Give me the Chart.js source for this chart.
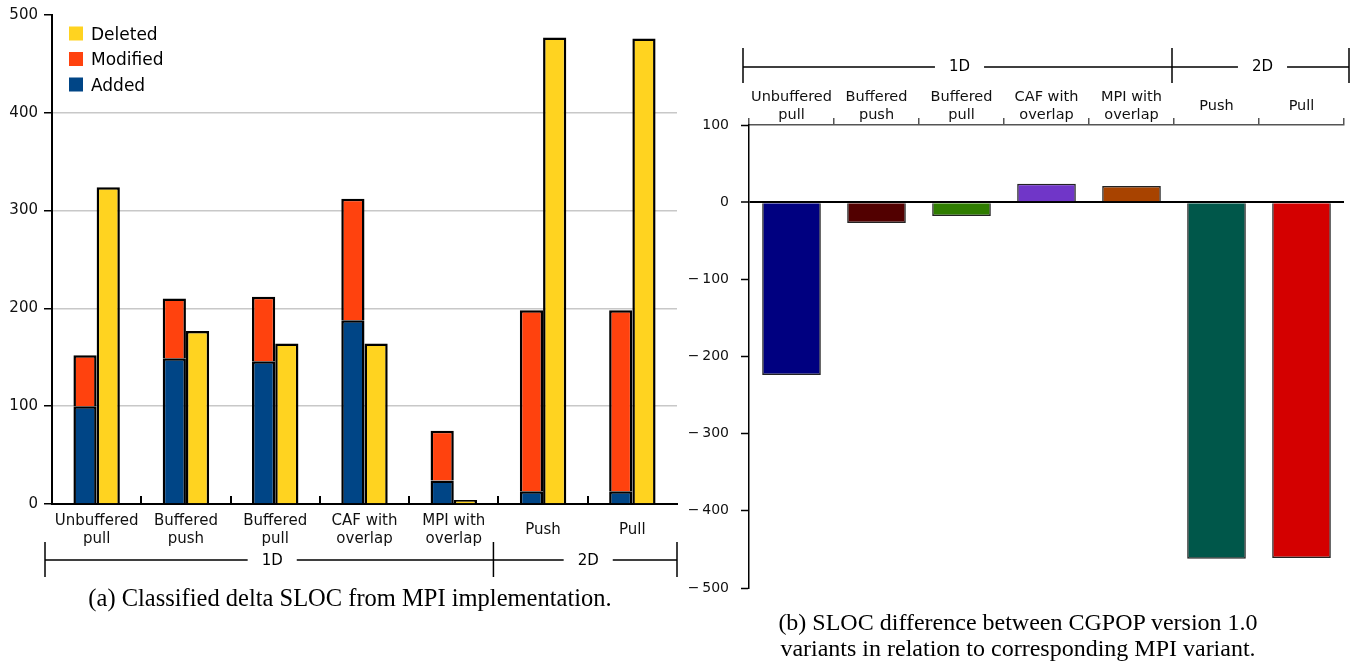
<!DOCTYPE html>
<html>
<head>
<meta charset="utf-8">
<script src="https://cdn.jsdelivr.net/npm/chart.js@4/dist/chart.umd.min.js"></script>
<style>
  html, body { margin: 0; padding: 0; background: #fff; }
  body { width: 1356px; height: 664px; position: relative; overflow: hidden; }
  canvas { position: absolute; }
  .cap { position: absolute; font-family: 'Liberation Serif', 'Times New Roman', serif; font-size: 24px; color: #000; text-align: center; line-height: 26px; white-space: nowrap; }
</style>
</head>
<body>
<canvas id="left" width="690" height="580" style="left:0;top:0;width:690px;height:580px"></canvas>
<canvas id="right" width="676" height="664" style="left:680px;top:0;width:676px;height:664px"></canvas>
<div class="cap" style="left:0px;top:585px;width:700px;font-size:24.5px;">(a) Classified delta SLOC from MPI implementation.</div>
<div class="cap" style="left:690px;top:609px;width:656px;">(b) SLOC difference between CGPOP version 1.0<br>variants in relation to corresponding MPI variant.</div>
<script>
// ---- Data ----
const variants = [["Unbuffered","pull"],["Buffered","push"],["Buffered","pull"],["CAF with","overlap"],["MPI with","overlap"],"Push","Pull"];
const groups = [{ name: "1D", from: 0, to: 5 }, { name: "2D", from: 5, to: 7 }];

const added    = [100, 149, 146, 188, 24, 13, 13];
const modified = [52, 61, 66, 124, 51, 185, 185];
const deleted  = [324, 177, 164, 164, 4, 477, 476];

const cafVariants = [["Unbuffered","pull"],["Buffered","push"],["Buffered","pull"],["CAF with","overlap"],["MPI with","overlap"],"Push","Pull"];
const slocDiff = [-224, -27, -18, 24, 21, -462, -461];
const diffColors = ["#000080", "#520000", "#2f7d00", "#7036c8", "#a84300", "#00574a", "#d40000"];

const leftTicks = [0, 100, 200, 300, 400, 500];
const rightTicks = [100, 0, -100, -200, -300, -400, -500];

const FONT = "'DejaVu Sans', 'Noto Sans', sans-serif";

// ---- Left chart plugin: legend, boundary ticks, group bracket ----
const leftDecor = {
  id: 'leftDecor',
  afterDraw(chart) {
    const ctx = chart.ctx;
    const xs = chart.scales.x;
    const area = chart.chartArea;
    ctx.save();
    // boundary ticks pointing up from the axis
    ctx.strokeStyle = '#000';
    ctx.lineWidth = 2;
    for (let i = 1; i < variants.length; i++) {
      const px = Math.round(xs.getPixelForValue(i - 0.5));
      ctx.beginPath();
      ctx.moveTo(px, area.bottom);
      ctx.lineTo(px, area.bottom - 8);
      ctx.stroke();
    }
    // legend (reverse order)
    const ds = chart.data.datasets.slice().reverse();
    ctx.font = "17px " + FONT;
    ctx.textBaseline = 'middle';
    ctx.textAlign = 'left';
    ds.forEach((d, i) => {
      const cy = 33.5 + i * 25.5;
      ctx.fillStyle = d.backgroundColor;
      ctx.fillRect(69, cy - 7, 14, 14);
      ctx.fillStyle = '#000';
      ctx.fillText(d.label, 91, cy + 2);
    });
    // group bracket
    const y = 560;
    ctx.lineWidth = 1.5;
    ctx.font = "15px " + FONT;
    ctx.textAlign = 'center';
    const bounds = groups.map(g => ({
      name: g.name,
      l: g.from === 0 ? xs.left - 7 : xs.getPixelForValue(g.from - 0.5) - 5,
      r: g.to === variants.length ? xs.right : xs.getPixelForValue(g.to - 0.5) - 5
    }));
    const edges = [bounds[0].l];
    bounds.forEach(b => edges.push(b.r));
    edges.forEach(e => {
      ctx.beginPath(); ctx.moveTo(e, 542); ctx.lineTo(e, 577); ctx.stroke();
    });
    bounds.forEach(b => {
      const c = (b.l + b.r) / 2 + 3;
      const w = ctx.measureText(b.name).width / 2 + 14;
      ctx.beginPath(); ctx.moveTo(b.l, y); ctx.lineTo(c - w, y);
      ctx.moveTo(c + w, y); ctx.lineTo(b.r, y); ctx.stroke();
      ctx.fillStyle = '#000';
      ctx.fillText(b.name, c, y + 1);
    });
    ctx.restore();
  }
};

new Chart(document.getElementById('left'), {
  type: 'bar',
  data: {
    labels: variants,
    datasets: [
      { label: 'Added', data: added, stack: 'a', backgroundColor: '#004586' },
      { label: 'Modified', data: modified, stack: 'a', backgroundColor: '#ff420e' },
      { label: 'Deleted', data: deleted, stack: 'b', backgroundColor: '#ffd320' }
    ]
  },
  options: {
    responsive: false,
    animation: false,
    devicePixelRatio: 1,
    layout: { padding: { left: 0, right: 13, top: 15, bottom: 0 }, autoPadding: false },
    datasets: { bar: { borderColor: '#000', borderWidth: 2.5, categoryPercentage: 0.52, barPercentage: 1 } },
    plugins: { legend: { display: false }, tooltip: { enabled: false } },
    scales: {
      x: {
        stacked: true,
        afterFit(s) { s.height = 76; },
        grid: { display: true, drawOnChartArea: false, drawTicks: false },
        border: { display: true, color: '#000', width: 2 },
        ticks: { font: { family: FONT, size: 15, lineHeight: 1.2 }, color: '#111', padding: 17, maxRotation: 0, autoSkip: false, crossAlign: 'center' }
      },
      y: {
        stacked: true,
        min: 0, max: 500,
        afterFit(s) { s.width = 52; },
        afterBuildTicks(s) { s.ticks = leftTicks.map(v => ({ value: v })); },
        grid: {
          color: c => (c.tick && c.tick.value > 0 && c.tick.value < 500) ? '#c8c8c8' : 'rgba(0,0,0,0)',
          tickColor: '#000', tickLength: 8, tickWidth: 1.5, lineWidth: 1.5
        },
        border: { display: true, color: '#000', width: 2 },
        ticks: { font: { family: FONT, size: 15 }, color: '#111', padding: 6 }
      }
    }
  },
  plugins: [leftDecor]
});

// ---- Right chart plugin: group bracket on top ----
const rightDecor = {
  id: 'rightDecor',
  afterDraw(chart) {
    const ctx = chart.ctx;
    const xs = chart.scales.x;
    ctx.save();
    ctx.strokeStyle = '#000';
    ctx.lineWidth = 1.5;
    ctx.font = "15px " + FONT;
    ctx.textAlign = 'center';
    ctx.textBaseline = 'middle';
    const y = 67;
    const bounds = groups.map(g => ({
      name: g.name,
      l: g.from === 0 ? xs.left - 6 : xs.getPixelForValue(g.from - 0.5) - 2,
      r: g.to === cafVariants.length ? xs.right + 5 : xs.getPixelForValue(g.to - 0.5) - 2
    }));
    const edges = [bounds[0].l];
    bounds.forEach(b => edges.push(b.r));
    edges.forEach(e => {
      ctx.beginPath(); ctx.moveTo(e, 48); ctx.lineTo(e, 83); ctx.stroke();
    });
    bounds.forEach(b => {
      const c = (b.l + b.r) / 2 + 2;
      const w = ctx.measureText(b.name).width / 2 + 14;
      ctx.beginPath(); ctx.moveTo(b.l, y); ctx.lineTo(c - w, y);
      ctx.moveTo(c + w, y); ctx.lineTo(b.r, y); ctx.stroke();
      ctx.fillStyle = '#000';
      ctx.fillText(b.name, c, y);
    });
    ctx.restore();
  }
};

new Chart(document.getElementById('right'), {
  type: 'bar',
  data: {
    labels: cafVariants,
    datasets: [
      { label: 'SLOC difference', data: slocDiff, backgroundColor: diffColors, borderColor: '#222', borderWidth: 1.5 }
    ]
  },
  options: {
    responsive: false,
    animation: false,
    devicePixelRatio: 1,
    layout: { padding: { left: 0, right: 12, top: 0, bottom: 76 }, autoPadding: false },
    datasets: { bar: { categoryPercentage: 1, barPercentage: 0.69 } },
    plugins: { legend: { display: false }, tooltip: { enabled: false } },
    scales: {
      x: {
        position: 'top',
        afterFit(s) { s.height = 125; },
        grid: { offset: true, drawOnChartArea: false, drawTicks: true, tickLength: 7, color: '#555', lineWidth: 1.5 },
        border: { display: true, color: '#555', width: 1.5 },
        ticks: { font: { family: FONT, size: 14.5, lineHeight: 1.24 }, color: '#111', padding: 3, maxRotation: 0, autoSkip: false, crossAlign: 'center' }
      },
      y: {
        min: -500, max: 100,
        afterFit(s) { s.width = 69; },
        afterBuildTicks(s) { s.ticks = rightTicks.map(v => ({ value: v })); },
        grid: {
          color: c => (c.tick && c.tick.value === 0) ? '#000' : 'rgba(0,0,0,0)',
          lineWidth: c => (c.tick && c.tick.value === 0) ? 2 : 1,
          tickColor: '#000', tickLength: 8, tickWidth: 1.5
        },
        border: { display: true, color: '#000', width: 1.5 },
        ticks: {
          font: { family: FONT, size: 14 }, color: '#111', padding: 12,
          callback: v => v < 0 ? '\u2212\u2009' + Math.abs(v) : String(v)
        }
      }
    }
  },
  plugins: [rightDecor]
});
</script>
</body>
</html>
